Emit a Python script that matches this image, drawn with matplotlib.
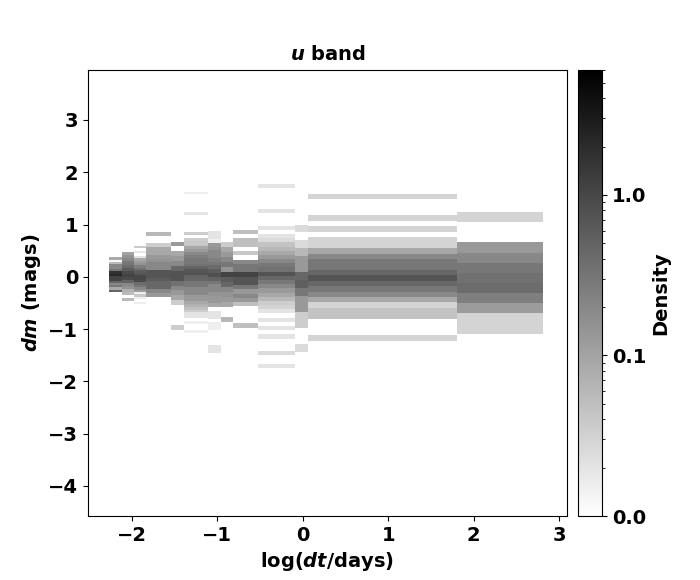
import numpy as np
import matplotlib
matplotlib.use("Agg")
import matplotlib.pyplot as plt
from matplotlib.colors import LogNorm
from matplotlib.cm import ScalarMappable
from matplotlib.ticker import FormatStrFormatter

plt.rcParams['font.family'] = ['DejaVu Sans']
plt.rcParams['font.weight'] = 'bold'
plt.rcParams['mathtext.fontset'] = 'custom'
plt.rcParams['mathtext.it'] = 'DejaVu Sans:bold:italic'
plt.rcParams['mathtext.rm'] = 'DejaVu Sans:bold'
plt.rcParams['mathtext.bf'] = 'DejaVu Sans:bold'

# log(dt) column edges
col_x_edges = [-2.27, -2.118, -1.977, -1.836, -1.543, -1.391, -1.11, -0.958,
               -0.817, -0.525, -0.091, 0.061, 1.806, 2.813]
# dm range covered by each column (top, bottom)
col_top = [0.37, 0.47, 0.59, 0.86, 0.675, 1.63, 0.87, 0.66, 0.90, 1.78, 1.00, 1.59, 1.24]
col_bottom = [-0.29, -0.47, -0.52, -0.38, -1.01, -1.065, -1.45, -0.868, -0.97, -1.74, -1.43, -1.218, -1.088]

# densities per column, listed from top (largest dm) to bottom; 0 = empty
dens_A = [0.085, 0.012, 0.055, 0.2, 0.2, 0.3, 1.7, 2.2, 1.1, 1.1, 0.47, 0.2, 0.3, 0.085, 0.47]
dens_B = [0.1, 0.15, 0.2, 0.3, 0.4, 0.6, 0.9, 1.1, 0.9, 0.5, 0.2, 0.15, 0.07, 0.055, 0, 0.055]
dens_C = [0.037, 0, 0.018, 0, 0.02, 0.09, 0.12, 0.15, 0.25, 0.35, 0.6, 0.7, 1.0, 1.0,
          0.9, 0.4, 0.3, 0.2, 0.12, 0.015, 0.04, 0.015, 0, 0.015]
dens_D = [0.06, 0, 0, 0.035, 0.09, 0.09, 0.13, 0.15, 0.2, 0.2, 0.72, 0.72, 0.6,
          0.45, 0.45, 0.2, 0.13]
dens_E = [0.13, 0, 0.09, 0.13, 0.2, 0.45, 0.75, 0.75, 0.35, 0.2, 0.13, 0.09, 0.035,
          0, 0, 0, 0, 0.035]
dens_F = [0.015, 0, 0, 0, 0, 0, 0, 0.02, 0, 0, 0, 0, 0, 0, 0.035, 0, 0.035, 0.04,
          0.04, 0.09, 0.12, 0.2, 0.25, 0.3, 0.3, 0.35, 0.5, 0.7, 0.75, 0.5, 0.45, 0.3,
          0.3, 0.2, 0.2, 0.2, 0.13, 0.13, 0.09, 0.07, 0.05, 0.035, 0.02, 0.02, 0,
          0.015, 0, 0, 0.015]
dens_G = [0.02, 0.02, 0.015, 0.13, 0.15, 0.2, 0.2, 0.25, 0.3, 0.4, 0.6, 0.8, 0.5,
          0.3, 0.2, 0.2, 0.15, 0.13, 0.13, 0.09, 0, 0.02, 0.02, 0, 0.015, 0.015,
          0, 0, 0, 0, 0.02, 0.02]
dens_H = [0.035, 0.09, 0.13, 0.2, 0.3, 0.15, 1.1, 0.6, 0.45, 0.2, 0.15, 0.13, 0.09,
          0, 0, 0.06]
dens_I = [0.05, 0, 0.05, 0.05, 0, 0.04, 0, 0.2, 0.3, 0.3, 1.1, 0.7, 0.7, 0.3, 0.13,
          0.2, 0.13, 0.05, 0, 0, 0, 0, 0.05]
dens_J = [0.02, 0, 0, 0, 0, 0, 0.02, 0, 0, 0, 0.02, 0, 0.02, 0.025, 0.045, 0.06,
          0.09, 0.13, 0.2, 0.3, 0.35, 0.75, 0.45, 0.3, 0.2, 0.13, 0.09, 0.06, 0.035,
          0.03, 0.02, 0, 0.02, 0, 0.02, 0, 0.02, 0, 0, 0, 0.025, 0, 0, 0.02]
dens_K = [0.025, 0, 0.025, 0.06, 0.13, 0.13, 0.45, 0.55, 0.3, 0.13, 0.13, 0.035,
          0.035, 0, 0, 0.025]
dens_L = [0.03, 0, 0, 0, 0.03, 0, 0.03, 0, 0.03, 0.03, 0.09, 0.2, 0.3, 0.3, 0.45,
          0.72, 0.45, 0.3, 0.2, 0.09, 0.03, 0.045, 0.045, 0, 0, 0, 0.03]
dens_M = [0.03, 0, 0, 0.13, 0.2, 0.3, 0.35, 0.4, 0.25, 0.12, 0.03, 0.03]

columns = [dens_A, dens_B, dens_C, dens_D, dens_E, dens_F, dens_G, dens_H,
           dens_I, dens_J, dens_K, dens_L, dens_M]

x_ticks = [-2, -1, 0, 1, 2, 3]
y_ticks = [-4, -3, -2, -1, 0, 1, 2, 3]
cbar_ticks = [0.01, 0.1, 1.0]

fig = plt.figure(figsize=(7.0, 5.8), dpi=100)
ax = fig.add_axes([88/700, 64/580, 479/700, 446/580])
cax = fig.add_axes([578/700, 64/580, 24/700, 446/580])

cmap = plt.get_cmap('gray_r')
norm = LogNorm(vmin=0.01, vmax=6.0)

for i, dens in enumerate(columns):
    d = np.array(dens[::-1], dtype=float)
    yedges = np.linspace(col_bottom[i], col_top[i], len(d) + 1)
    xedges = np.array([col_x_edges[i], col_x_edges[i + 1]])
    z = np.ma.masked_less_equal(d[:, None], 0)
    ax.pcolormesh(xedges, yedges, z, cmap=cmap, norm=norm, shading='flat')

ax.set_xlim(-2.515, 3.094)
ax.set_ylim(-4.574, 3.956)
ax.set_xticks(x_ticks)
ax.set_yticks(y_ticks)
ax.tick_params(labelsize=14)
for lab in ax.get_xticklabels() + ax.get_yticklabels():
    lab.set_fontweight('bold')
ax.set_xlabel(r'log($dt$/days)', fontsize=14, fontweight='bold', labelpad=4)
ax.set_ylabel(r'$dm$ (mags)', fontsize=14, fontweight='bold', labelpad=4)
ax.set_title(r'$u$ band', fontsize=14, fontweight='bold', pad=7)

sm = ScalarMappable(norm=norm, cmap=cmap)
cb = fig.colorbar(sm, cax=cax)
cb.set_ticks(cbar_ticks)
cb.ax.yaxis.set_major_formatter(FormatStrFormatter('%.1f'))
cb.ax.tick_params(labelsize=14)
for lab in cb.ax.get_yticklabels():
    lab.set_fontweight('bold')
cb.set_label('Density', fontsize=14, fontweight='bold', labelpad=4)

fig.savefig('out.png', dpi=100)
